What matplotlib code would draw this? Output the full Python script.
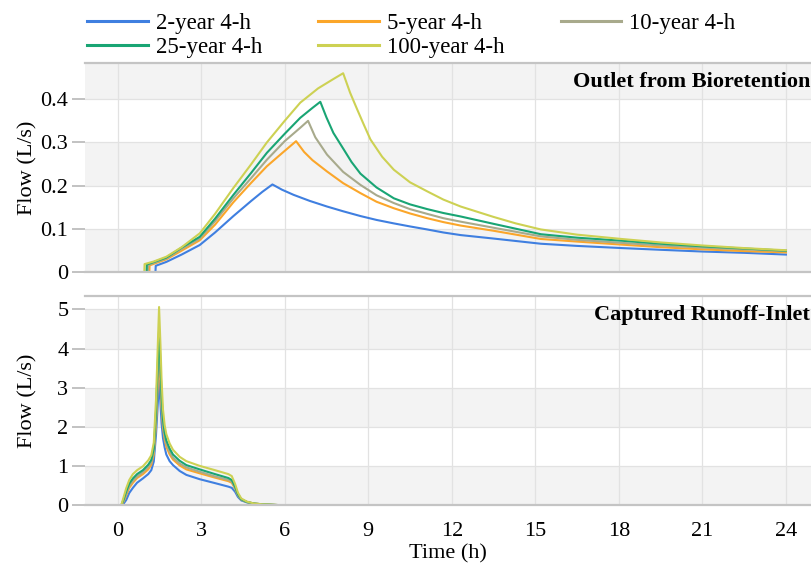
import numpy as np
import matplotlib
matplotlib.use("Agg")
import matplotlib.pyplot as plt

plt.rcParams['font.family'] = ['Liberation Serif', 'DejaVu Serif']

labels = ["2-year 4-h", "5-year 4-h", "10-year 4-h", "25-year 4-h", "100-year 4-h"]
colors = ["#3f7fe0", "#fba62a", "#a8aa8c", "#19a574", "#cdd153"]

# outlet flow from the bioretention cell (L/s)
t_out_2 = [0, 1.36, 1.37, 1.75, 2.3, 2.95, 3.5, 4.16, 4.8, 5.2, 5.56, 5.9, 6.32, 6.9,
           7.52, 8.1, 8.72, 9.3, 9.92, 10.5, 11.12, 11.7, 12.32, 13.5, 15.2, 16.5,
           18.1, 19.5, 21, 22.5, 24]
q_out_2 = [0, 0, 0.015, 0.024, 0.041, 0.063, 0.092, 0.130, 0.165, 0.186, 0.203, 0.191,
           0.179, 0.165, 0.152, 0.141, 0.130, 0.121, 0.113, 0.106, 0.099, 0.092, 0.086,
           0.078, 0.066, 0.061, 0.056, 0.052, 0.048, 0.045, 0.041]
t_out_5 = [0, 1.14, 1.15, 1.75, 2.3, 2.95, 3.5, 4.16, 4.8, 5.36, 5.9, 6.41, 6.7, 7.0,
           7.52, 8.1, 8.72, 9.3, 9.92, 10.5, 11.12, 11.7, 12.32, 13.5, 15.2, 16.5,
           18.1, 19.5, 21, 22.5, 24]
q_out_5 = [0, 0, 0.016, 0.030, 0.050, 0.074, 0.110, 0.162, 0.207, 0.245, 0.275, 0.303,
           0.278, 0.259, 0.233, 0.206, 0.183, 0.163, 0.148, 0.136, 0.125, 0.116, 0.108,
           0.096, 0.077, 0.071, 0.064, 0.058, 0.053, 0.049, 0.046]
t_out_10 = [0, 1.09, 1.10, 1.75, 2.3, 2.95, 3.5, 4.16, 4.8, 5.36, 6.0, 6.56, 6.84, 7.1,
            7.52, 8.1, 8.72, 9.3, 9.92, 10.5, 11.12, 11.7, 12.32, 13.5, 15.2, 16.5,
            18.1, 19.5, 21, 22.5, 24]
q_out_10 = [0, 0, 0.017, 0.032, 0.054, 0.078, 0.118, 0.171, 0.218, 0.260, 0.303, 0.334,
            0.350, 0.312, 0.272, 0.232, 0.202, 0.178, 0.160, 0.146, 0.135, 0.125, 0.117,
            0.103, 0.083, 0.075, 0.068, 0.062, 0.057, 0.053, 0.049]
t_out_25 = [0, 1.04, 1.05, 1.75, 2.3, 2.95, 3.5, 4.16, 4.8, 5.36, 6.0, 6.56, 7.0, 7.28,
            7.5, 7.75, 8.12, 8.4, 8.72, 9.3, 9.92, 10.5, 11.12, 11.7, 12.32, 13.5, 15.2,
            16.5, 18.1, 19.5, 21, 22.5, 24]
q_out_25 = [0, 0, 0.018, 0.034, 0.057, 0.082, 0.124, 0.179, 0.230, 0.276, 0.320, 0.357,
            0.380, 0.394, 0.358, 0.322, 0.284, 0.255, 0.228, 0.196, 0.171, 0.157, 0.146,
            0.137, 0.129, 0.112, 0.088, 0.080, 0.073, 0.066, 0.060, 0.055, 0.050]
t_out_100 = [0, 0.96, 0.97, 1.3, 1.75, 2.3, 2.95, 3.5, 4.16, 4.8, 5.36, 6.0, 6.56, 7.2,
             7.76, 8.1, 8.35, 8.6, 8.85, 9.08, 9.5, 9.92, 10.5, 11.12, 11.7, 12.32,
             13.5, 14.3, 15.2, 16.5, 18.1, 19.5, 21, 22.5, 24]
q_out_100 = [0, 0, 0.019, 0.025, 0.036, 0.058, 0.090, 0.135, 0.195, 0.250, 0.300, 0.350,
             0.392, 0.425, 0.447, 0.460, 0.415, 0.377, 0.340, 0.307, 0.267, 0.237, 0.208,
             0.187, 0.168, 0.152, 0.128, 0.113, 0.099, 0.087, 0.077, 0.069, 0.062, 0.056,
             0.051]

# captured runoff entering the inlet (L/s)
t_in = [0, 0.13, 0.22, 0.31, 0.42, 0.55, 0.7, 0.91, 1.1, 1.21, 1.30, 1.38, 1.44, 1.49,
        1.54, 1.58, 1.63, 1.69, 1.75, 1.87, 1.99, 2.23, 2.47, 2.95, 3.5, 3.98, 4.1,
        4.22, 4.32, 4.44, 4.64, 4.9, 5.2, 5.8, 7.0, 24]
q_in_2 = [0, 0, 0.05, 0.14, 0.32, 0.45, 0.58, 0.69, 0.80, 0.90, 1.12, 1.8, 2.55, 3.19,
          2.6, 2.1, 1.72, 1.48, 1.30, 1.13, 1.03, 0.88, 0.78, 0.67, 0.57, 0.48, 0.45,
          0.35, 0.22, 0.13, 0.08, 0.04, 0.02, 0.01, 0, 0]
q_in_5 = [0, 0, 0.11, 0.26, 0.45, 0.58, 0.70, 0.80, 0.92, 1.04, 1.30, 2.1, 3.05, 3.83,
          3.1, 2.5, 2.0, 1.68, 1.50, 1.30, 1.17, 1.02, 0.92, 0.82, 0.71, 0.62, 0.58,
          0.43, 0.27, 0.15, 0.09, 0.05, 0.03, 0.01, 0, 0]
q_in_10 = [0, 0, 0.13, 0.30, 0.50, 0.63, 0.74, 0.85, 0.98, 1.10, 1.37, 2.25, 3.3, 4.15,
           3.35, 2.65, 2.1, 1.76, 1.58, 1.37, 1.22, 1.07, 0.97, 0.86, 0.74, 0.65, 0.61,
           0.45, 0.28, 0.15, 0.09, 0.05, 0.03, 0.01, 0, 0]
q_in_25 = [0, 0, 0.16, 0.36, 0.56, 0.69, 0.80, 0.90, 1.04, 1.16, 1.45, 2.4, 3.55, 4.45,
           3.6, 2.8, 2.2, 1.86, 1.66, 1.45, 1.30, 1.14, 1.03, 0.92, 0.80, 0.70, 0.65,
           0.48, 0.29, 0.16, 0.09, 0.05, 0.03, 0.01, 0, 0]
q_in_100 = [0, 0, 0.22, 0.44, 0.65, 0.80, 0.90, 1.00, 1.15, 1.28, 1.60, 2.7, 4.0, 5.06,
            4.1, 3.2, 2.45, 2.05, 1.82, 1.58, 1.42, 1.24, 1.13, 1.01, 0.90, 0.80, 0.75,
            0.55, 0.33, 0.18, 0.10, 0.05, 0.03, 0.01, 0, 0]

out_t = [t_out_2, t_out_5, t_out_10, t_out_25, t_out_100]
out_q = [q_out_2, q_out_5, q_out_10, q_out_25, q_out_100]
in_q = [q_in_2, q_in_5, q_in_10, q_in_25, q_in_100]

xticks = [0, 3, 6, 9, 12, 15, 18, 21, 24]

fig = plt.figure(figsize=(8.11, 5.66), dpi=100)
ax1 = fig.add_axes([0.1048, 0.5189, 0.8952, 0.3693])
ax2 = fig.add_axes([0.1048, 0.1069, 0.8952, 0.3701])


def style(ax, ymax, step, ticklabels):
    ax.set_xlim(-1.17, 24.9)
    ax.set_ylim(0, ymax)
    for lo in np.arange(0, ymax, 2 * step):
        ax.axhspan(lo, min(lo + step, ymax), color="#f3f3f3", lw=0, zorder=0)
    ax.set_axisbelow(True)
    ax.grid(True, color="#e2e2e2", lw=0.9)
    ax.set_xticks(xticks)
    ax.set_yticks(np.arange(len(ticklabels)) * step)
    ax.set_yticklabels(ticklabels)
    ax.tick_params(axis="x", length=0, labelsize=16, pad=12)
    ax.tick_params(axis="y", length=9.5, width=1.2, color="#b8b8b8",
                   labelsize=16, pad=2.5)
    for s in ["left", "right"]:
        ax.spines[s].set_visible(False)
    for s in ["top", "bottom"]:
        ax.spines[s].set_color("#c4c4c4")
        ax.spines[s].set_linewidth(1.6)
    ax.set_ylabel("Flow (L/s)", fontsize=16)
    ax.yaxis.set_label_coords(-0.066, 0.5)


lines = []
for t, q, c, lab in zip(out_t, out_q, colors, labels):
    ln, = ax1.plot(t, q, color=c, lw=1.5, label=lab)
    lines.append(ln)
for q, c in zip(in_q, colors):
    ax2.plot(t_in, q, color=c, lw=1.5)

style(ax1, 0.483, 0.1, ["0", "0.1", "0.2", "0.3", "0.4"])
style(ax2, 5.34, 1, ["0", "1", "2", "3", "4", "5"])
ax1.tick_params(labelbottom=False)
ax2.set_xlabel("Time (h)", fontsize=16, labelpad=2)

ax1.text(0.999, 0.91, "Outlet from Bioretention", transform=ax1.transAxes,
         ha="right", va="center", fontsize=16, fontweight="bold")
ax2.text(0.999, 0.91, "Captured Runoff-Inlet", transform=ax2.transAxes,
         ha="right", va="center", fontsize=16, fontweight="bold")

# row-wise legend order across three columns
order = [0, 3, 1, 4, 2]
leg = fig.legend([lines[i] for i in order], [labels[i] for i in order], ncol=3,
                 loc="upper left", bbox_to_anchor=(0.107, 0.977), frameon=False,
                 fontsize=16.5, handlelength=2.65, handletextpad=0.35,
                 columnspacing=2.45, labelspacing=0.12, borderpad=0,
                 borderaxespad=0)
for h in leg.legend_handles:
    h.set_linewidth(2.2)

fig.savefig("out.png", dpi=100)
